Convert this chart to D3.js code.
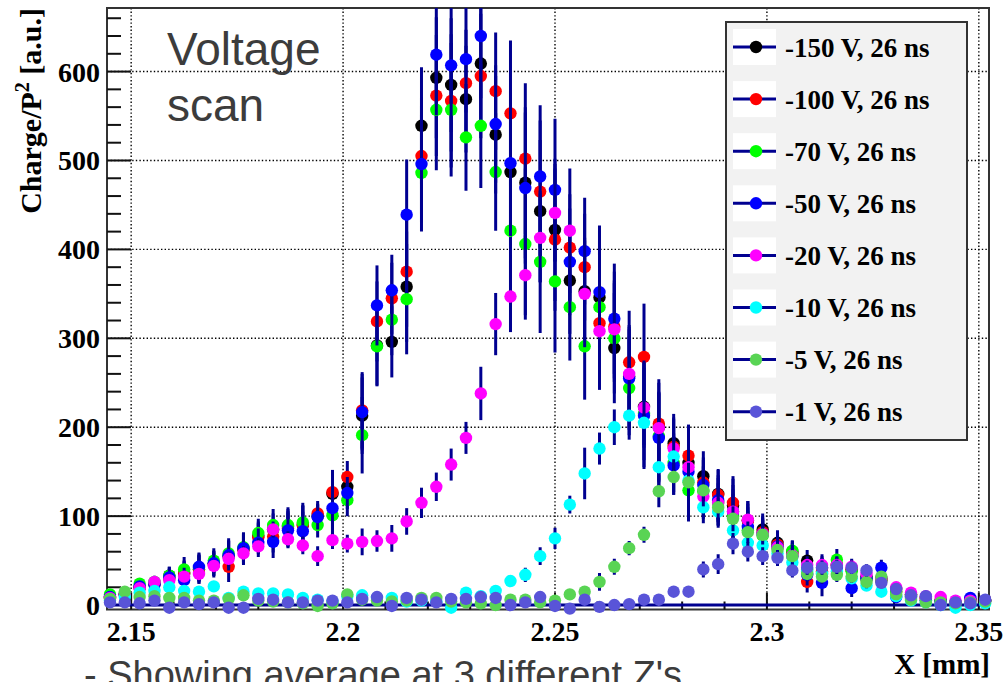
<!DOCTYPE html>
<html><head><meta charset="utf-8">
<script src="https://cdn.jsdelivr.net/npm/d3@7/dist/d3.min.js"></script>
<style>body{margin:0;background:#fff}svg{display:block}</style>
</head><body><svg id="c" width="1006" height="682"></svg>
<script>
const xValues = [2.1450,2.1485,2.1520,2.1555,2.1590,2.1625,2.1660,2.1695,2.1730,2.1765,
2.1800,2.1835,2.1870,2.1905,2.1940,2.1975,2.2010,2.2045,2.2080,2.2115,
2.2150,2.2185,2.2220,2.2255,2.2290,2.2325,2.2360,2.2395,2.2430,2.2465,
2.2500,2.2535,2.2570,2.2605,2.2640,2.2675,2.2710,2.2745,2.2780,2.2815,
2.2850,2.2885,2.2920,2.2955,2.2990,2.3025,2.3060,2.3095,2.3130,2.3165,
2.3200,2.3235,2.3270,2.3305,2.3340,2.3375,2.3410,2.3445,2.3480,2.3515];

const seriesNames = ["-150 V, 26 ns","-100 V, 26 ns","-70 V, 26 ns","-50 V, 26 ns","-20 V, 26 ns","-10 V, 26 ns","-5 V, 26 ns","-1 V, 26 ns"];
const seriesColors = ["#000000","#ff0000","#00ff00","#0000ff","#ff00ff","#00ffff","#59d454","#5954d8"];

const v150 = [9,12,20,24,33,35,40,47,55,63,78,85,88,90,100,125,133,213,292,296,
358,539,593,585,569,609,529,487,475,443,422,365,353,346,289,257,223,200,182,160,
145,125,112,95,85,70,60,50,42,45,40,32,30,18,12,8,5,3,6,5];
const v100 = [8,12,20,24,30,36,40,45,43,62,76,77,86,90,103,127,144,219,319,345,
375,505,573,567,587,595,578,553,502,465,411,402,380,317,313,273,279,204,178,168,
138,124,115,95,82,68,58,26,38,45,40,30,28,15,12,7,6,2,6,5];
const v70 = [12,13,24,26,33,40,42,50,58,65,81,90,90,93,90,101,118,191,291,321,
344,486,557,557,526,539,487,421,406,386,364,335,291,335,300,244,215,190,160,129,
128,115,100,84,78,65,61,40,35,51,38,30,28,15,10,5,5,3,5,5];
const v50 = [9,12,21,23,31,28,43,47,56,64,70,71,84,83,99,109,126,217,337,354,
439,496,619,607,614,640,541,497,469,482,467,386,398,352,322,255,213,188,157,150,
135,118,105,88,80,66,55,34,25,42,19,30,42,9,8,5,4,2,8,5];
const v20 = [8,12,19,26,28,32,35,44,52,58,66,85,74,67,55,73,69,71,72,75,
94,115,133,158,188,238,316,347,371,413,441,421,350,308,310,260,222,199,176,155,
122,115,105,96,80,65,56,45,45,45,43,35,30,20,14,10,9,5,5,5];
const v10 = [5,9,14,16,20,16,15,21,8,15,13,13,12,8,6,4,10,11,8,8,
4,5,4,-3,14,10,16,27,34,55,75,113,148,176,200,213,205,155,167,140,
110,105,84,70,67,58,48,38,35,38,30,22,15,10,5,3,0,-3,0,2];
const v5 = [7,15,9,10,8,8,5,5,7,11,5,4,3,2,-1,2,12,6,5,4,
5,8,8,4,3,2,0,6,6,3,5,12,15,26,43,64,79,128,144,138,
129,110,97,82,79,62,55,35,32,34,32,26,32,12,6,3,3,2,3,4];
const v1 = [3,3,2,5,-3,3,1,3,-3,-3,7,6,3,3,5,5,3,7,9,-1,
8,6,3,7,7,9,8,0,3,9,-1,-4,6,-2,0,1,6,6,15,15,
40,46,69,60,55,53,39,42,42,43,42,39,25,18,11,10,0,3,2,6];

const errHV = [4,5,6,7,10,14,16,14,17,17,16,18,20,22,14,25,18,43,45,40,
62,66,68,75,60,70,66,82,85,80,80,60,60,75,62,58,60,50,33,35,
28,28,30,22,18,14,12,12,15,12,10,10,9,7,6,5,5,4,5,5];
const err20 = [4,4,5,5,6,6,7,7,8,8,9,9,9,10,11,10,10,15,12,15,
15,17,16,18,18,30,35,40,45,50,55,70,60,60,55,50,45,40,33,30,
25,22,20,18,16,14,12,10,10,10,9,8,7,6,5,5,4,4,4,4];
const err10 = [4,4,4,4,4,4,4,4,4,4,4,4,4,4,4,4,4,4,4,4,
4,4,4,4,5,5,5,6,8,10,12,10,29,18,20,22,25,22,22,20,
18,16,14,12,10,9,8,7,7,7,6,5,4,4,3,3,3,3,3,3];
const err5 = [3,3,3,3,3,3,3,3,3,3,3,3,3,3,3,3,3,3,3,3,
3,3,3,3,3,3,3,3,3,3,3,4,5,10,9,8,9,18,20,20,
18,16,14,12,11,10,9,8,8,8,7,7,6,5,4,3,3,3,3,3];
const err1 = [3,3,3,3,3,3,3,3,3,3,3,3,3,3,3,3,3,3,3,3,
3,3,3,3,3,3,3,3,3,3,3,3,3,3,3,3,3,3,3,4,
9,11,12,11,10,9,8,8,8,8,7,7,6,5,4,4,3,3,3,3];

const seriesValues = [v150, v100, v70, v50, v20, v10, v5, v1];
const seriesErrors = [errHV, errHV, errHV, errHV, err20, err10, err5, err1];

const xTicks = [2.15, 2.2, 2.25, 2.3, 2.35];
const xTickLabels = ["2.15", "2.2", "2.25", "2.3", "2.35"];
const yTicks = [0, 100, 200, 300, 400, 500, 600];
const yTickLabels = ["0", "100", "200", "300", "400", "500", "600"];

const navy = "#000090";
const serif = "'Liberation Serif','Times New Roman',serif";
const sans = "'Liberation Sans',Arial,sans-serif";

const svg = d3.select("#c");
const x = d3.scaleLinear().domain([2.1443, 2.3524]).range([107, 989]);
const y = d3.scaleLinear().domain([-5, 671.5]).range([609.5, 8]);
const [x0, x1] = x.range();
const [yb, yt] = y.range();

svg.append("rect").attr("width", 1006).attr("height", 682).attr("fill", "#fff");

svg.append("defs").append("clipPath").attr("id", "plot")
  .append("rect").attr("x", x0).attr("y", yt).attr("width", x1 - x0).attr("height", yb - yt);

// grid
const grid = svg.append("g").attr("stroke", "#000").attr("stroke-width", 1.4).attr("stroke-dasharray", "1.4,2.2");
grid.selectAll(".gx").data(xTicks).join("line")
  .attr("x1", d => x(d)).attr("x2", d => x(d)).attr("y1", yt).attr("y2", yb);
grid.selectAll(".gy").data(yTicks).join("line")
  .attr("y1", d => y(d)).attr("y2", d => y(d)).attr("x1", x0).attr("x2", x1);

// frame
svg.append("rect").attr("x", x0).attr("y", yt).attr("width", x1 - x0).attr("height", yb - yt)
  .attr("fill", "none").attr("stroke", "#333").attr("stroke-width", 2);

// ticks
const ticks = svg.append("g").attr("stroke", "#111").attr("stroke-width", 2);
const yMinor = d3.range(0, 34).map(k => k * 20).filter(v => v % 100 !== 0);
ticks.selectAll(".ym").data(yMinor).join("line")
  .attr("x1", x0).attr("x2", x0 + 14).attr("y1", d => y(d)).attr("y2", d => y(d));
ticks.selectAll(".yM").data(yTicks).join("line")
  .attr("x1", x0).attr("x2", x0 + 24).attr("y1", d => y(d)).attr("y2", d => y(d));
const xMinor = d3.range(215, 236).map(k => k / 100).filter(v => Math.round(v * 100) % 5 !== 0);
ticks.selectAll(".xm").data(xMinor).join("line")
  .attr("x1", d => x(d)).attr("x2", d => x(d)).attr("y1", yb).attr("y2", yb - 8);
ticks.selectAll(".xM").data(xTicks).join("line")
  .attr("x1", d => x(d)).attr("x2", d => x(d)).attr("y1", yb).attr("y2", yb - 17);

// tick labels
svg.append("g").selectAll("text").data(yTicks).join("text")
  .attr("x", 100).attr("y", d => y(d) + 10).attr("text-anchor", "end")
  .attr("font-family", serif).attr("font-weight", "bold").attr("font-size", 28)
  .text((d, i) => yTickLabels[i]);
svg.append("g").selectAll("text").data(xTicks).join("text")
  .attr("x", d => x(d)).attr("y", 641).attr("text-anchor", "middle")
  .attr("font-family", serif).attr("font-weight", "bold").attr("font-size", 28)
  .text((d, i) => xTickLabels[i]);

// axis titles
svg.append("text").attr("x", 990).attr("y", 674).attr("text-anchor", "end")
  .attr("font-family", serif).attr("font-weight", "bold").attr("font-size", 29).text("X [mm]");
const yt_ = svg.append("text").attr("transform", "translate(41,8) rotate(-90)").attr("text-anchor", "end")
  .attr("font-family", serif).attr("font-weight", "bold").attr("font-size", 30);
yt_.append("tspan").text("Charge/P");
yt_.append("tspan").attr("font-size", 20).attr("dy", -12).text("2");
yt_.append("tspan").attr("dy", 12).text(" [a.u.]");

// zero line
svg.append("line").attr("x1", x0).attr("x2", x1).attr("y1", y(0)).attr("y2", y(0))
  .attr("stroke", navy).attr("stroke-width", 3);

// series
const dataG = svg.append("g");
seriesValues.forEach((vals, s) => {
  const pts = vals.map((v, i) => ({x: xValues[i], v, e: seriesErrors[s][i]}));
  const g = dataG.append("g");
  g.append("g").attr("clip-path", "url(#plot)").selectAll("line").data(pts).join("line")
    .attr("x1", d => x(d.x)).attr("x2", d => x(d.x))
    .attr("y1", d => y(d.v - d.e)).attr("y2", d => y(d.v + d.e))
    .attr("stroke", navy).attr("stroke-width", 3);
  g.append("g").selectAll("circle").data(pts).join("circle")
    .attr("cx", d => x(d.x)).attr("cy", d => y(d.v)).attr("r", 6.2)
    .attr("fill", seriesColors[s]);
});

// legend
const leg = svg.append("g");
leg.append("rect").attr("x", 726).attr("y", 22).attr("width", 241).attr("height", 418)
  .attr("fill", "#f2f2f2").attr("stroke", "#333").attr("stroke-width", 2);
seriesNames.forEach((name, i) => {
  const cy = 47 + 52.1 * i;
  leg.append("rect").attr("x", 733).attr("y", cy - 18).attr("width", 43).attr("height", 36).attr("fill", "#fff");
  leg.append("line").attr("x1", 733).attr("x2", 776).attr("y1", cy).attr("y2", cy)
    .attr("stroke", navy).attr("stroke-width", 3);
  leg.append("circle").attr("cx", 756).attr("cy", cy).attr("r", 6.2).attr("fill", seriesColors[i]);
  leg.append("text").attr("x", 785).attr("y", cy + 9.5)
    .attr("font-family", serif).attr("font-weight", "bold").attr("font-size", 27).text(name);
});

// annotations
const ann = svg.append("g").attr("font-family", sans).attr("fill", "#3c3c3c");
ann.append("text").attr("x", 167).attr("y", 65).attr("font-size", 46).text("Voltage");
ann.append("text").attr("x", 167).attr("y", 121).attr("font-size", 46).text("scan");
ann.append("text").attr("x", 84).attr("y", 688).attr("font-size", 38).text("- Showing average at 3 different Z's");
</script></body></html>
